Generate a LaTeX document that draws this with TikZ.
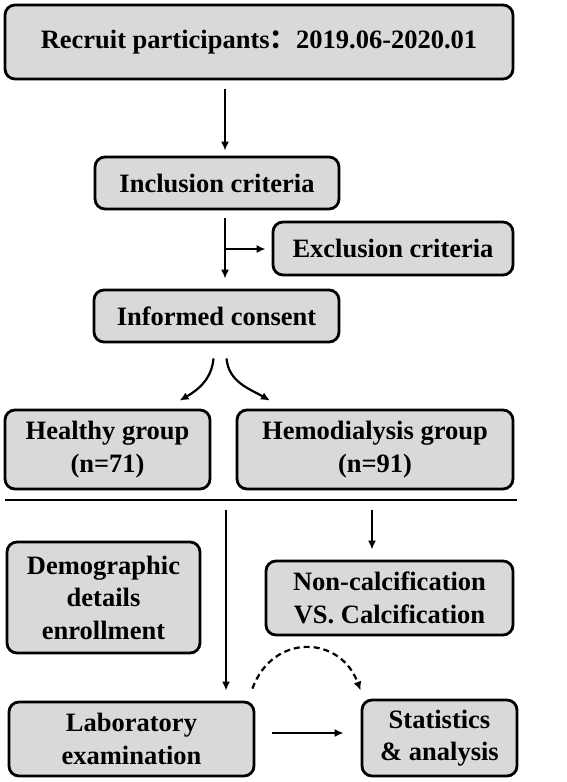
\documentclass[tikz,border=0pt]{standalone}
\usepackage{fontspec}
\setmainfont{Liberation Serif}
\newfontfamily\cjk{Noto Sans CJK SC}
\usepackage{tikz}
\usetikzlibrary{arrows.meta,calc}
\definecolor{boxgray}{HTML}{D9D9D9}

\begin{document}
\begin{tikzpicture}[x=1pt,y=-1pt,
  box/.style={draw,rounded corners=10pt,line width=2.8pt,fill=boxgray,
    align=center,inner sep=0pt,font=\fontsize{26.5}{32.5}\selectfont\bfseries},
  arr/.style={line width=2.2pt,-{Latex[length=9pt,width=8pt]}}]
  \useasboundingbox (0,0) rectangle (567,782);
  \node[box,minimum width=508,minimum height=74] (recruit) at (259,42) {Recruit participants{\cjk ：}2019.06-2020.01};
  \node[box,minimum width=244,minimum height=52] (incl) at (217,183) {Inclusion criteria};
  \node[box,minimum width=240,minimum height=53] (excl) at (393,248.5) {Exclusion criteria};
  \node[box,minimum width=245,minimum height=52] (consent) at (216.5,316) {Informed consent};
  \node[box,minimum width=205,minimum height=79] (healthy) at (107.5,449.5) {Healthy group\\(n=71)};
  \node[box,minimum width=276,minimum height=79] (hemo) at (375,449.5) {Hemodialysis group\\(n=91)};
  \node[box,minimum width=193,minimum height=111] (demo) at (103.5,597.5) {Demographic\\details\\enrollment};
  \node[box,minimum width=247,minimum height=74] (noncalc) at (389.5,598) {Non-calcification\\VS. Calcification};
  \node[box,minimum width=245,minimum height=74] (lab) at (131.5,739) {Laboratory\\examination};
  \node[box,minimum width=155,minimum height=76] (stats) at (439.5,738) {Statistics\\\& analysis};
  \coordinate (spine) at (225,0);
  \coordinate (split) at (225,249);
  \coordinate (sepL) at (5,500);
  \coordinate (sepR) at (517,500);
  \coordinate (lower) at (226,0);
  \coordinate (calc) at (372,0);
  % upper part
  \draw[arr] ([yshift=-9pt]recruit.south -| spine) -- ([yshift=5pt]incl.north -| spine);
  \draw[arr] ([yshift=-8pt]incl.south -| spine) -- ([yshift=10pt]consent.north -| spine);
  \draw[arr] (split) -- ([xshift=-6pt]excl.west |- split);
  \draw[arr] ([xshift=-3pt,yshift=-15pt]consent.south) to[out=-95,in=30] ([xshift=72pt,yshift=8pt]healthy.north);
  \draw[arr] ([xshift=10pt,yshift=-15pt]consent.south) to[out=-85,in=150] ([xshift=-105pt,yshift=8pt]hemo.north);
  \draw[line width=2.8pt] (sepL) -- (sepR);
  % lower part
  \draw[arr] ([yshift=-10pt]sepL -| lower) -- ([yshift=10pt]lab.north -| lower);
  \draw[arr] ([yshift=-10pt]sepL -| calc) -- ([yshift=10pt]noncalc.north -| calc);
  \draw[arr,dash pattern=on 6pt off 4pt] ([xshift=-3pt,yshift=12pt]lab.north east) to[out=70,in=110,looseness=1.4] ([yshift=8pt]stats.north west);
  \draw[arr] ([xshift=17pt,yshift=6pt]lab.east) -- ([xshift=-17pt,yshift=5pt]stats.west);
\end{tikzpicture}
\end{document}
